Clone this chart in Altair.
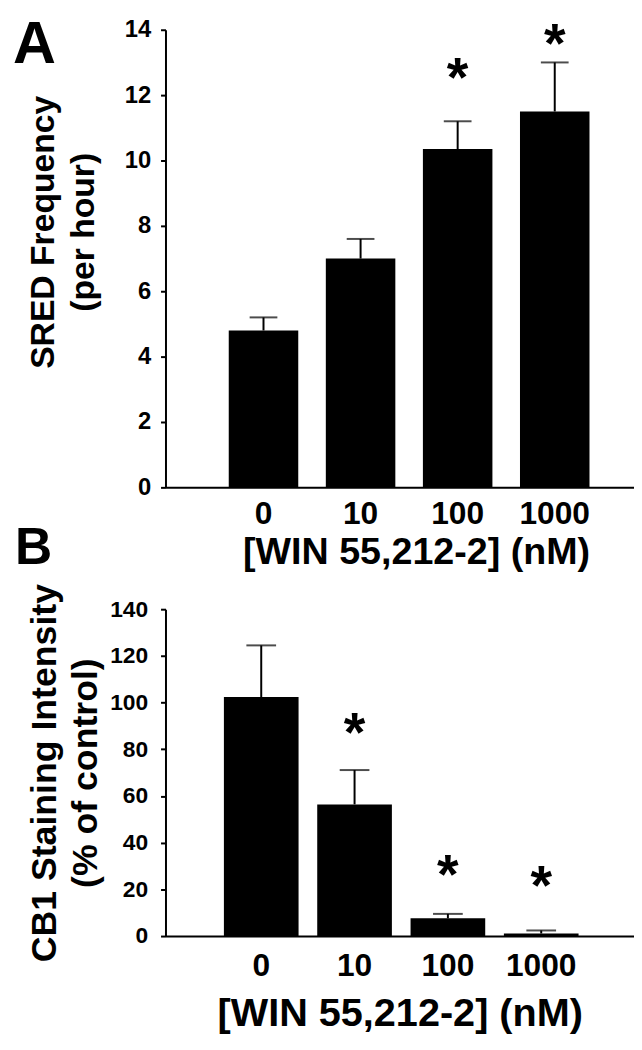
import altair as alt
import pandas as pd

FONT = "Liberation Sans"

conc = ["0", "10", "100", "1000"]

# Panel A: SRED frequency (per hour)
sred_mean = [4.8, 7.0, 10.35, 11.5]
sred_sem = [0.4, 0.6, 0.85, 1.5]
sred_star_conc = ["100", "1000"]
sred_star_y = [12.7, 13.75]

# Panel B: CB1 staining intensity (% of control)
cb1_mean = [102.4, 56.4, 7.6, 1.1]
cb1_sem = [22.1, 14.7, 1.9, 1.3]
cb1_star_conc = ["10", "100", "1000"]
cb1_star_y = [89.4, 28.6, 23.8]

a_ticks = [0, 2, 4, 6, 8, 10, 12, 14]
b_ticks = [0, 20, 40, 60, 80, 100, 120, 140]
x_title = "[WIN 55,212-2] (nM)"

W = 473


def panel(mean, sem, star_conc, star_y, ydom, yticks, ytitle, h,
          xscale, ylab_size, ylab_pad, ytitle_size, ytitle_pad, ytitle_line,
          xlab_pad, xtitle_size, xtitle_pad, letter, letter_size, letter_x, letter_y,
          ytitle_y=None, xtitle_x=None, cap=28):
    df = pd.DataFrame({"conc": conc, "mean": mean,
                       "upper": [m + s for m, s in zip(mean, sem)]})
    sdf = pd.DataFrame({"conc": star_conc, "y": star_y, "s": ["*"] * len(star_conc)})
    ldf = pd.DataFrame({"t": [letter]})

    yaxis_kw = dict(values=yticks, tickSize=5, tickWidth=2, domainWidth=2,
                    labelFontSize=ylab_size, labelFontWeight="bold", labelPadding=ylab_pad,
                    title=ytitle, titleFontSize=ytitle_size, titleFontWeight="bold",
                    titlePadding=ytitle_pad, titleLineHeight=ytitle_line, grid=False)
    if ytitle_y is not None:
        yaxis_kw["titleY"] = ytitle_y
    xaxis_kw = dict(ticks=False, tickSize=0, domainWidth=2, labelAngle=0,
                    labelFontSize=32, labelFontWeight="bold", labelPadding=xlab_pad,
                    title=x_title, titleFontSize=xtitle_size, titleFontWeight="bold",
                    titlePadding=xtitle_pad)
    if xtitle_x is not None:
        xaxis_kw["titleX"] = xtitle_x

    x = alt.X("conc:N", sort=conc, scale=xscale, axis=alt.Axis(**xaxis_kw))
    y = alt.Y("mean:Q", scale=alt.Scale(domain=ydom, nice=False, zero=True),
              axis=alt.Axis(**yaxis_kw))

    base = alt.Chart(df)
    bars = base.mark_bar(color="black").encode(x=x, y=y)
    err = base.mark_rule(color="black", strokeWidth=2).encode(
        x=alt.X("conc:N", sort=conc), y="mean:Q", y2="upper:Q")
    caps = base.mark_tick(color="black", thickness=2, size=cap, orient="horizontal").encode(
        x=alt.X("conc:N", sort=conc), y="upper:Q")
    stars = alt.Chart(sdf).mark_text(font=FONT, fontSize=56, fontWeight="bold",
                                     baseline="alphabetic", dy=24, color="black").encode(
        x=alt.X("conc:N", sort=conc), y="y:Q", text="s:N")
    lett = alt.Chart(ldf).mark_text(font=FONT, fontSize=letter_size, fontWeight="bold",
                                    align="left", baseline="alphabetic", color="black").encode(
        x=alt.value(letter_x), y=alt.value(letter_y), text="t:N")
    return alt.layer(bars, err, caps, stars, lett).properties(width=W, height=h)


A = panel(sred_mean, sred_sem, sred_star_conc, sred_star_y, [0, 14], a_ticks,
          ["SRED Frequency", "(per hour)"], 462,
          alt.Scale(paddingInner=0.284, paddingOuter=0.555, align=0.587),
          24, 10, 34, 24, 40, 11, 38, 5, "A", 60, -154, 34,
          ytitle_y=204, xtitle_x=253, cap=28)

B = panel(cb1_mean, cb1_sem, cb1_star_conc, cb1_star_y, [0, 140], b_ticks,
          ["CB1 Staining Intensity", "(% of control)"], 330,
          alt.Scale(paddingInner=0.2, paddingOuter=0.61, align=0.513),
          23, 13, 36, 5, 42, 15, 40, 12, "B", 52, -152, -46, cap=30)

chart = alt.vconcat(A, B, spacing=123, bounds="flush").properties(
    padding={"left": 5, "top": 3, "right": 0, "bottom": 5}
).configure(font=FONT).configure_view(stroke=None).configure_axis(
    domainColor="black", tickColor="black", labelColor="black", titleColor="black",
    labelFont=FONT, titleFont=FONT)

chart.save("out.html", embed_options={"renderer": "svg", "actions": False})
